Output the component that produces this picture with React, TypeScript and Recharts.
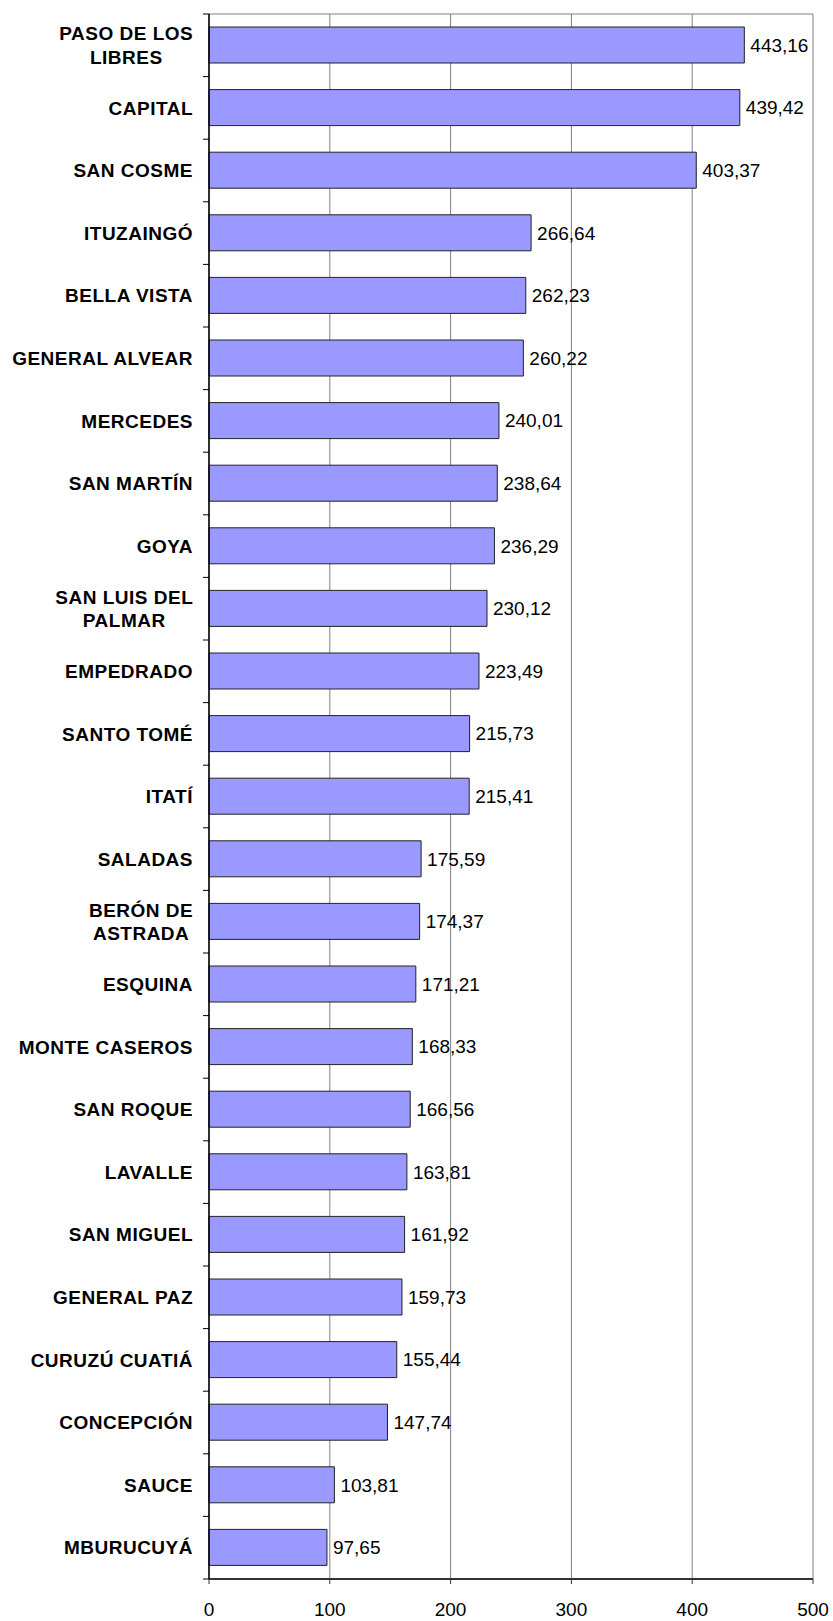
import { Bar, BarChart, CartesianGrid, LabelList, XAxis, YAxis } from "recharts";

const CATEGORIES = [
	"PASO DE LOS LIBRES",
	"CAPITAL",
	"SAN COSME",
	"ITUZAINGÓ",
	"BELLA VISTA",
	"GENERAL ALVEAR",
	"MERCEDES",
	"SAN MARTÍN",
	"GOYA",
	"SAN LUIS DEL PALMAR",
	"EMPEDRADO",
	"SANTO TOMÉ",
	"ITATÍ",
	"SALADAS",
	"BERÓN DE ASTRADA",
	"ESQUINA",
	"MONTE CASEROS",
	"SAN ROQUE",
	"LAVALLE",
	"SAN MIGUEL",
	"GENERAL PAZ",
	"CURUZÚ CUATIÁ",
	"CONCEPCIÓN",
	"SAUCE",
	"MBURUCUYÁ",
];

const VALUES = [
	443.16, 439.42, 403.37, 266.64, 262.23, 260.22, 240.01, 238.64, 236.29,
	230.12, 223.49, 215.73, 215.41, 175.59, 174.37, 171.21, 168.33, 166.56,
	163.81, 161.92, 159.73, 155.44, 147.74, 103.81, 97.65,
];

const X_TICKS = [0, 100, 200, 300, 400, 500];

const data = CATEGORIES.map((name, i) => ({ name, value: VALUES[i] }));

const W = 833;
const H = 1621;
const TOP = 14;
const BOTTOM = 42;
const LEFT = 209;
const RIGHT = 20;
const BAND = (H - TOP - BOTTOM) / CATEGORIES.length;
const FONT = "'Liberation Sans', Arial, sans-serif";
const FS = 19;
const LS = 0.5;

let ctx: CanvasRenderingContext2D | null = null;
function measure(s: string) {
	if (!ctx) ctx = document.createElement("canvas").getContext("2d");
	if (!ctx) return s.length * 12;
	ctx.font = `bold ${FS}px ${FONT}`;
	return ctx.measureText(s).width + LS * (s.length - 1);
}

function wrap(s: string, max: number) {
	const words = s.split(" ");
	const lines: string[] = [];
	let cur = "";
	for (const w of words) {
		const next = cur ? cur + " " + w : w;
		if (cur && measure(next) > max) {
			lines.push(cur);
			cur = w;
		} else cur = next;
	}
	if (cur) lines.push(cur);
	return lines;
}

const fmt = (v: number) => v.toFixed(2).replace(".", ",");

function YTick(props: any) {
	const { x, y, payload, index } = props;
	const lines = wrap(payload.value, 192);
	const right = x - 16;
	const maxW = Math.max(...lines.map(measure));
	const cx = right - maxW / 2;
	const lh = 23.5;
	const y0 = y - ((lines.length - 1) * lh) / 2;
	return (
		<g>
			<line x1={x - 6} x2={x} y1={y - BAND / 2} y2={y - BAND / 2} stroke="#000" />
			{index === CATEGORIES.length - 1 && (
				<line x1={x - 6} x2={x} y1={y + BAND / 2} y2={y + BAND / 2} stroke="#000" />
			)}
			{lines.map((l, i) => (
				<text
					key={i}
					x={lines.length > 1 ? cx : right}
					y={y0 + i * lh}
					dy="0.355em"
					textAnchor={lines.length > 1 ? "middle" : "end"}
					fontFamily={FONT}
					fontWeight="bold"
					fontSize={FS}
					letterSpacing={LS}
					fill="#000"
				>
					{l}
				</text>
			))}
		</g>
	);
}

function XTick(props: any) {
	const { x, y, payload } = props;
	return (
		<text
			x={x}
			y={y + 25.5}
			dy="0.355em"
			textAnchor="middle"
			fontFamily={FONT}
			fontSize={FS}
			fill="#000"
		>
			{payload.value}
		</text>
	);
}

export default function App() {
	return (
		<div style={{ position: "absolute", left: 0, top: 0, background: "#fff" }}>
			<BarChart
				width={W}
				height={H}
				data={data}
				layout="vertical"
				margin={{ top: TOP, right: RIGHT, bottom: 0, left: 0 }}
			>
				<CartesianGrid
					stroke="#808080"
					horizontalPoints={[TOP]}
					vertical={true}
				/>
				<XAxis
					type="number"
					domain={[0, 500]}
					ticks={X_TICKS}
					height={BOTTOM}
					tickSize={5}
					tickMargin={0}
					axisLine={{ stroke: "#333", strokeWidth: 2 }}
					tickLine={{ stroke: "#333" }}
					tick={<XTick />}
				/>
				<YAxis
					type="category"
					dataKey="name"
					width={LEFT}
					interval={0}
					tickLine={false}
					tickSize={0}
					tickMargin={0}
					axisLine={{ stroke: "#000", strokeWidth: 1.5 }}
					tick={<YTick />}
				/>
				<Bar
					dataKey="value"
					fill="#9999FF"
					stroke="#222"
					strokeWidth={1}
					barSize={36}
					isAnimationActive={false}
				>
					<LabelList
						dataKey="value"
						position="right"
						offset={6}
						formatter={(v: any) => fmt(Number(v))}
						fill="#000"
						fontSize={FS}
						fontFamily={FONT}
					/>
				</Bar>
			</BarChart>
		</div>
	);
}
